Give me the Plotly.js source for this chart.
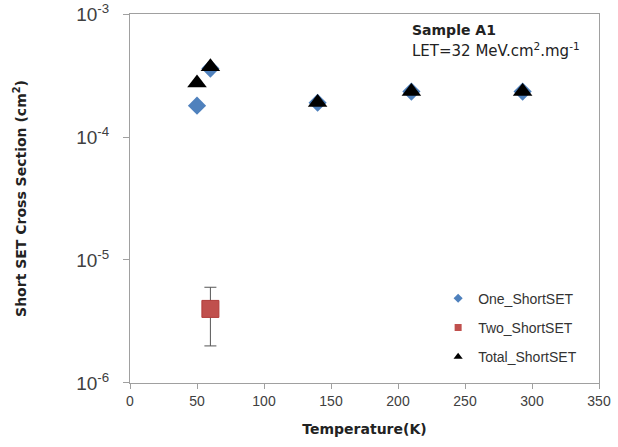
<!DOCTYPE html>
<html>
<head>
<meta charset="utf-8">
<script src="https://cdn.plot.ly/plotly-3.0.1.min.js"></script>
<style>html,body{margin:0;padding:0;background:#fff;}#chart{width:618px;height:447px;}</style>
</head>
<body>
<div id="chart"></div>
<script>
// Data
const oneT = [50, 60, 140, 210, 293];
const oneSigma = [1.8e-4, 3.6e-4, 1.9e-4, 2.34e-4, 2.34e-4];

const twoT = [60];
const twoSigma = [4.0e-6];
const twoErrPlus = [2.0e-6];
const twoErrMinus = [2.0e-6];

const totalT = [50, 60, 140, 210, 293];
const totalSigma = [2.75e-4, 3.73e-4, 1.91e-4, 2.34e-4, 2.34e-4];

const seriesNames = ['One_ShortSET', 'Two_ShortSET', 'Total_ShortSET'];
const xTickVals = [0, 50, 100, 150, 200, 250, 300, 350];
const yTickVals = [1e-6, 1e-5, 1e-4, 1e-3];
const yTickText = ['10<sup>-6</sup>', '10<sup>-5</sup>', '10<sup>-4</sup>', '10<sup>-3</sup>'];

const blue = '#4F81BD', red = '#C0504D', black = '#000000';
const wideFont = 'DejaVu Sans, sans-serif';

const traces = [
  {x: oneT, y: oneSigma, type: 'scatter', mode: 'markers', showlegend: false, cliponaxis: false,
   marker: {symbol: 'diamond', size: 14, color: blue}},
  {x: twoT, y: twoSigma, type: 'scatter', mode: 'markers', showlegend: false,
   error_y: {type: 'data', array: twoErrPlus, arrayminus: twoErrMinus, color: '#555555', thickness: 1, width: 6},
   marker: {symbol: 'square', size: 17, color: red, line: {color: '#B03C39', width: 1}}},
  {x: totalT, y: totalSigma, type: 'scatter', mode: 'markers', showlegend: false, cliponaxis: false,
   marker: {symbol: 'triangle-up', size: 17, color: black}},
  // legend entries with small symbols
  {x: [null], y: [null], type: 'scatter', mode: 'markers', name: seriesNames[0], legendgroup: 'a',
   marker: {symbol: 'diamond', size: 7, color: blue}},
  {x: [null], y: [null], type: 'scatter', mode: 'markers', name: seriesNames[1], legendgroup: 'b',
   marker: {symbol: 'square', size: 7, color: red}},
  {x: [null], y: [null], type: 'scatter', mode: 'markers', name: seriesNames[2], legendgroup: 'c',
   marker: {symbol: 'triangle-up', size: 8, color: black}}
];

const layout = {
  width: 618, height: 447,
  margin: {l: 130, r: 19, t: 14, b: 64},
  paper_bgcolor: '#ffffff', plot_bgcolor: '#ffffff',
  showlegend: true,
  legend: {x: 0.657, y: 0.272, xanchor: 'left', yanchor: 'top',
           font: {family: 'Liberation Sans, Arial, sans-serif', size: 14, color: '#333333'},
           tracegroupgap: 8, itemwidth: 30, bgcolor: 'rgba(0,0,0,0)'},
  xaxis: {
    range: [0, 350], tickvals: xTickVals, ticks: 'outside', ticklen: 5, tickcolor: '#a0a0a0',
    showgrid: false, zeroline: false, showline: true, linecolor: '#a0a0a0', linewidth: 1, mirror: true,
    tickfont: {family: 'Liberation Sans, Arial, sans-serif', size: 14, color: '#404040'},
    title: {text: '<b>Temperature(K)</b>', standoff: 16,
            font: {family: wideFont, size: 14, color: '#222222'}}
  },
  yaxis: {
    type: 'log', range: [-6.0005, -2.9995], tickvals: yTickVals, ticktext: yTickText,
    ticks: 'outside', ticklen: 6, tickcolor: '#a0a0a0',
    showgrid: false, zeroline: false, showline: true, linecolor: '#a0a0a0', linewidth: 1, mirror: true,
    tickfont: {family: 'Liberation Sans, Arial, sans-serif', size: 19, color: '#404040'},
    ticklabelstandoff: 10,
    title: {text: '<b>Short SET Cross Section (cm<sup>2</sup>)</b>', standoff: 46,
            font: {family: wideFont, size: 14, color: '#222222'}}
  },
  annotations: [
    {xref: 'paper', yref: 'paper', x: 0.598, y: 0.957, xanchor: 'left', yanchor: 'middle', showarrow: false,
     text: '<b>Sample A1</b>', font: {family: wideFont, size: 14, color: '#222222'}},
    {xref: 'paper', yref: 'paper', x: 0.598, y: 0.903, xanchor: 'left', yanchor: 'middle', showarrow: false,
     text: 'LET=32 MeV.cm<sup>2</sup>.mg<sup>-1</sup>', font: {family: wideFont, size: 15, color: '#222222'}}
  ]
};

Plotly.newPlot('chart', traces, layout, {displayModeBar: false, staticPlot: true});
</script>
</body>
</html>
